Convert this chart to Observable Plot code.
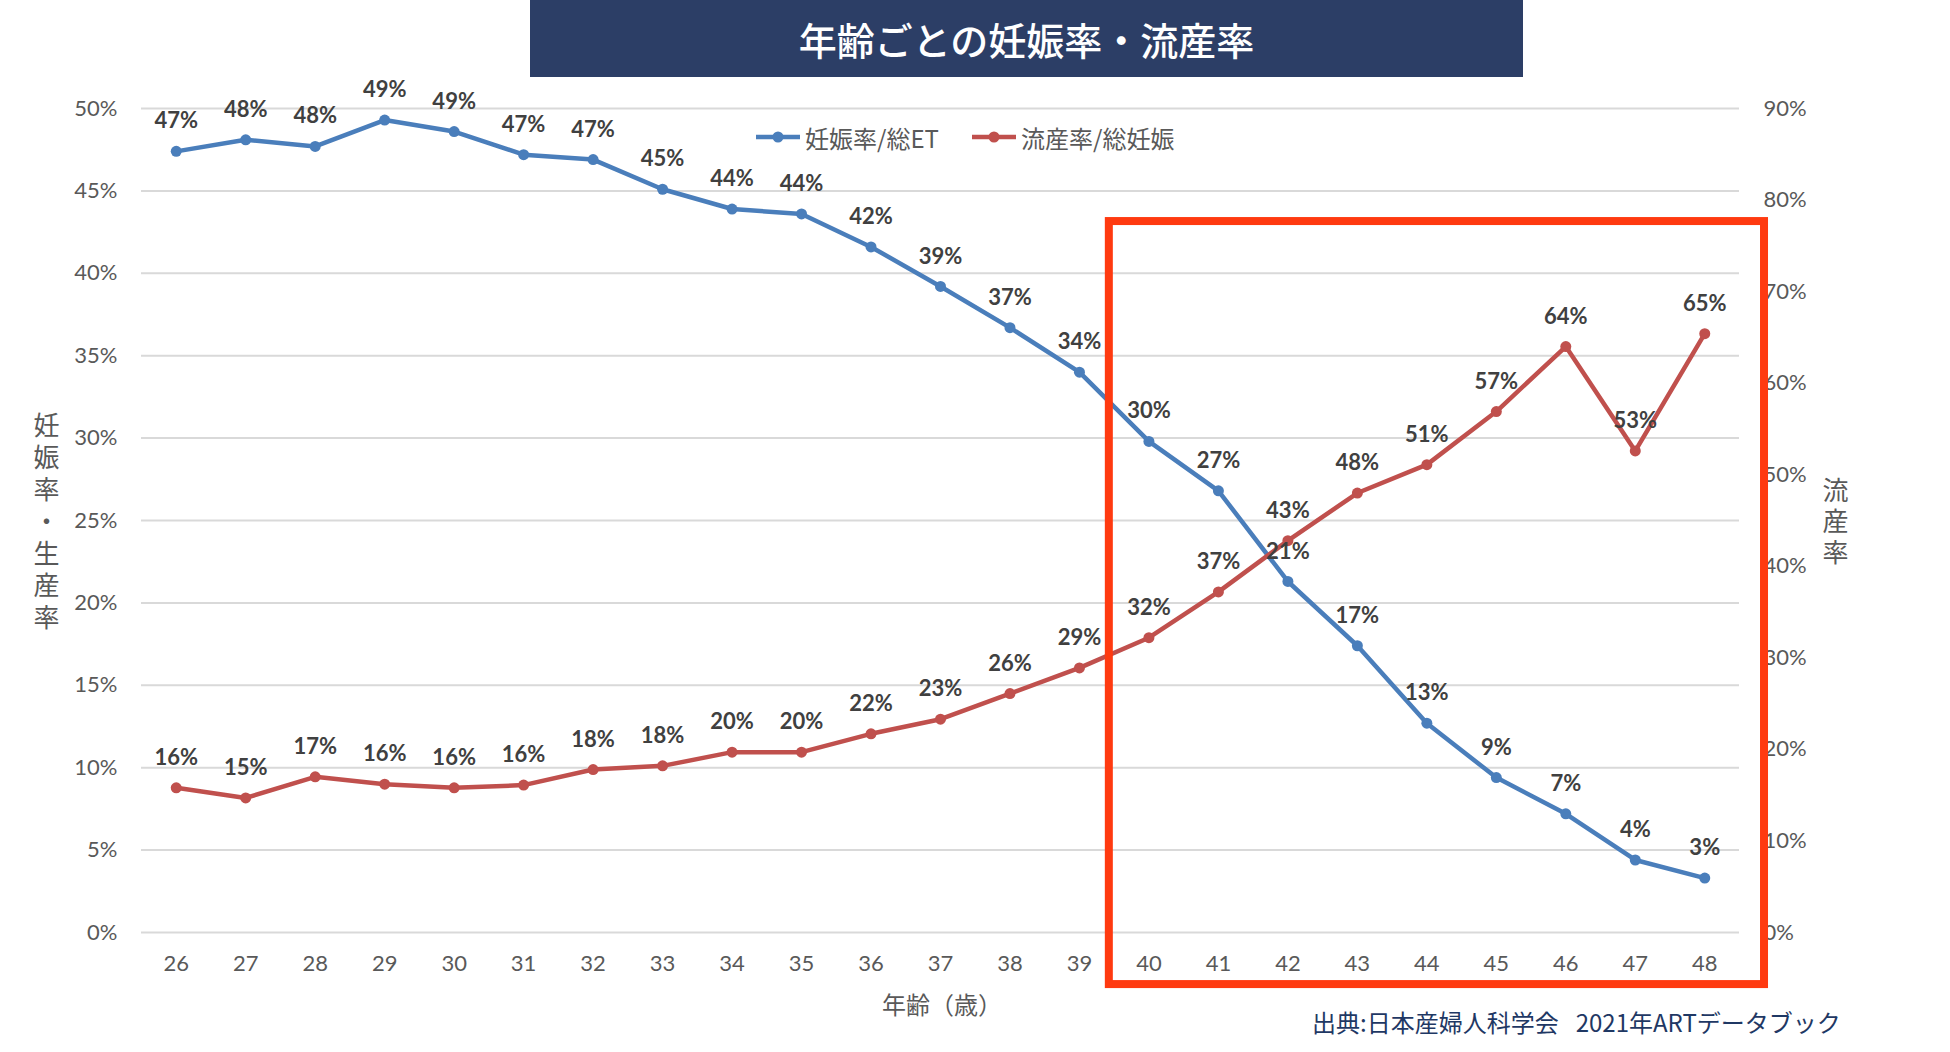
<!DOCTYPE html>
<html>
<head>
<meta charset="utf-8">
<script src="https://cdn.jsdelivr.net/npm/d3@7"></script>
<script src="https://cdn.jsdelivr.net/npm/@observablehq/plot@0.6"></script>
<style>
  html, body { margin: 0; padding: 0; background: #fff; }
  #wrap { position: relative; width: 1950px; height: 1052px; overflow: hidden; font-family: Lato, "Noto Sans CJK JP", sans-serif; }
  #title { position: absolute; left: 530px; top: 0; width: 993px; height: 77px; background: #2c3e66; color: #fff;
           font: 500 38px "Noto Sans CJK JP", sans-serif; display: flex; align-items: center; justify-content: center; }
  #chart { position: absolute; left: 0; top: 77px; }
  .vt { position: absolute; writing-mode: vertical-rl; text-orientation: upright; font: 26px "Noto Sans CJK JP", sans-serif; color: #595959; line-height: 1; transform: translateX(-50%); }
  #ytitleL { left: 46px; top: 412px; letter-spacing: 6px; }
  #ytitleR { left: 1835px; top: 477px; letter-spacing: 5px; }
  #xtitle { position: absolute; left: 942px; top: 990px; transform: translateX(-50%); font: 24px "Noto Sans CJK JP", sans-serif; color: #595959; line-height: 28px; white-space: nowrap; }
  #caption { position: absolute; left: 1312px; top: 1008px; font: 24px "Noto Sans CJK JP", sans-serif; color: #1f3864; line-height: 28px; white-space: nowrap; }
  #caption span { margin-left: 17px; }
  .leg { position: absolute; top: 123px; height: 28px; display: flex; align-items: center; font: 24px "Noto Sans CJK JP", sans-serif; color: #595959; white-space: nowrap; }
  .leg svg { margin-right: 5px; }
</style>
</head>
<body>
<div id="wrap">
  <div id="title">年齢ごとの妊娠率・流産率</div>
  <div id="chart"></div>
  <div class="vt" id="ytitleL">妊娠率・生産率</div>
  <div class="vt" id="ytitleR">流産率</div>
  <div id="xtitle">年齢（歳）</div>
  <div id="caption">出典:日本産婦人科学会<span>2021年ARTデータブック</span></div>
  <div id="legend"></div>
</div>
<script>
// ---- data ----
const ages = [26, 27, 28, 29, 30, 31, 32, 33, 34, 35, 36, 37, 38, 39, 40, 41, 42, 43, 44, 45, 46, 47, 48];
// 妊娠率/総ET (left axis, %)
const pregRate = [47.4, 48.1, 47.7, 49.3, 48.6, 47.2, 46.9, 45.1, 43.9, 43.6, 41.6, 39.2, 36.7, 34.0, 29.8, 26.8, 21.3, 17.4, 12.7, 9.4, 7.2, 4.4, 3.3];
// 流産率/総妊娠 (right axis, %)
const miscRate = [15.8, 14.7, 17.0, 16.2, 15.8, 16.1, 17.8, 18.2, 19.7, 19.7, 21.7, 23.3, 26.1, 28.9, 32.2, 37.2, 42.8, 48.0, 51.1, 56.9, 64.0, 52.6, 65.4];
const leftTicks = [0, 5, 10, 15, 20, 25, 30, 35, 40, 45, 50];
const rightTicks = [0, 10, 20, 30, 40, 50, 60, 70, 80, 90];
const seriesNames = ["妊娠率/総ET", "流産率/総妊娠"];
const seriesColors = ["#4a7ebb", "#c0504d"];
// highlighted region (ages ~39.4–48.9, left-axis units)
const highlight = [{x1: 39.43, x2: 48.86, y1: -3.16, y2: 43.14}];

const leftMax = 50, rightMax = 90;
const k = leftMax / rightMax;
const preg = ages.map((a, i) => ({age: a, v: pregRate[i], y: pregRate[i]}));
const misc = ages.map((a, i) => ({age: a, v: miscRate[i], y: miscRate[i] * k}));

const font = 'Lato, "Noto Sans CJK JP", sans-serif';

const chart = Plot.plot({
  width: 1950,
  height: 975,
  marginLeft: 141,
  marginRight: 211,
  marginTop: 31,
  marginBottom: 120,
  style: {fontFamily: font, fontSize: "22px", background: "transparent", overflow: "visible"},
  x: {domain: [25.5, 48.5]},
  y: {domain: [0, leftMax]},
  marks: [
    Plot.ruleY(leftTicks, {stroke: "#d9d9d9", strokeWidth: 2}),
    Plot.axisY({ticks: leftTicks, tickSize: 0, tickPadding: 24, tickFormat: d => d + "%", label: null, fill: "#595959", fontSize: 22}),
    Plot.axisY({anchor: "right", ticks: rightTicks.map(d => d * k), tickSize: 0, tickPadding: 24,
                tickFormat: d => Math.round(d / k) + "%", label: null, fill: "#595959", fontSize: 22}),
    Plot.axisX({ticks: ages, tickSize: 0, tickPadding: 23, tickFormat: d => String(d), label: null, fill: "#595959", fontSize: 22}),
    Plot.line(preg, {x: "age", y: "y", stroke: seriesColors[0], strokeWidth: 4.5}),
    Plot.dot(preg, {x: "age", y: "y", r: 5.5, fill: seriesColors[0]}),
    Plot.line(misc, {x: "age", y: "y", stroke: seriesColors[1], strokeWidth: 4.5}),
    Plot.dot(misc, {x: "age", y: "y", r: 5.5, fill: seriesColors[1]}),
    Plot.text(preg, {x: "age", y: "y", text: d => Math.round(d.v) + "%", dy: -30, fontWeight: "bold", fontSize: 22, fill: "#404040"}),
    Plot.text(misc, {x: "age", y: "y", text: d => Math.round(d.v) + "%", dy: -30, fontWeight: "bold", fontSize: 22, fill: "#404040"}),
    Plot.rect(highlight, {x1: "x1", x2: "x2", y1: "y1", y2: "y2", fill: "none", stroke: "#ff3a10", strokeWidth: 8})
  ]
});
document.getElementById("chart").appendChild(chart);

// legend
const legend = document.getElementById("legend");
const legendLeft = [756, 972];
seriesNames.forEach((name, i) => {
  const item = document.createElement("div");
  item.className = "leg";
  item.style.left = legendLeft[i] + "px";
  item.innerHTML = `<svg width="44" height="14"><line x1="0" y1="7" x2="44" y2="7" stroke="${seriesColors[i]}" stroke-width="4.5"/><circle cx="22" cy="7" r="5.5" fill="${seriesColors[i]}"/></svg><span>${name}</span>`;
  legend.appendChild(item);
});
</script>
</body>
</html>
